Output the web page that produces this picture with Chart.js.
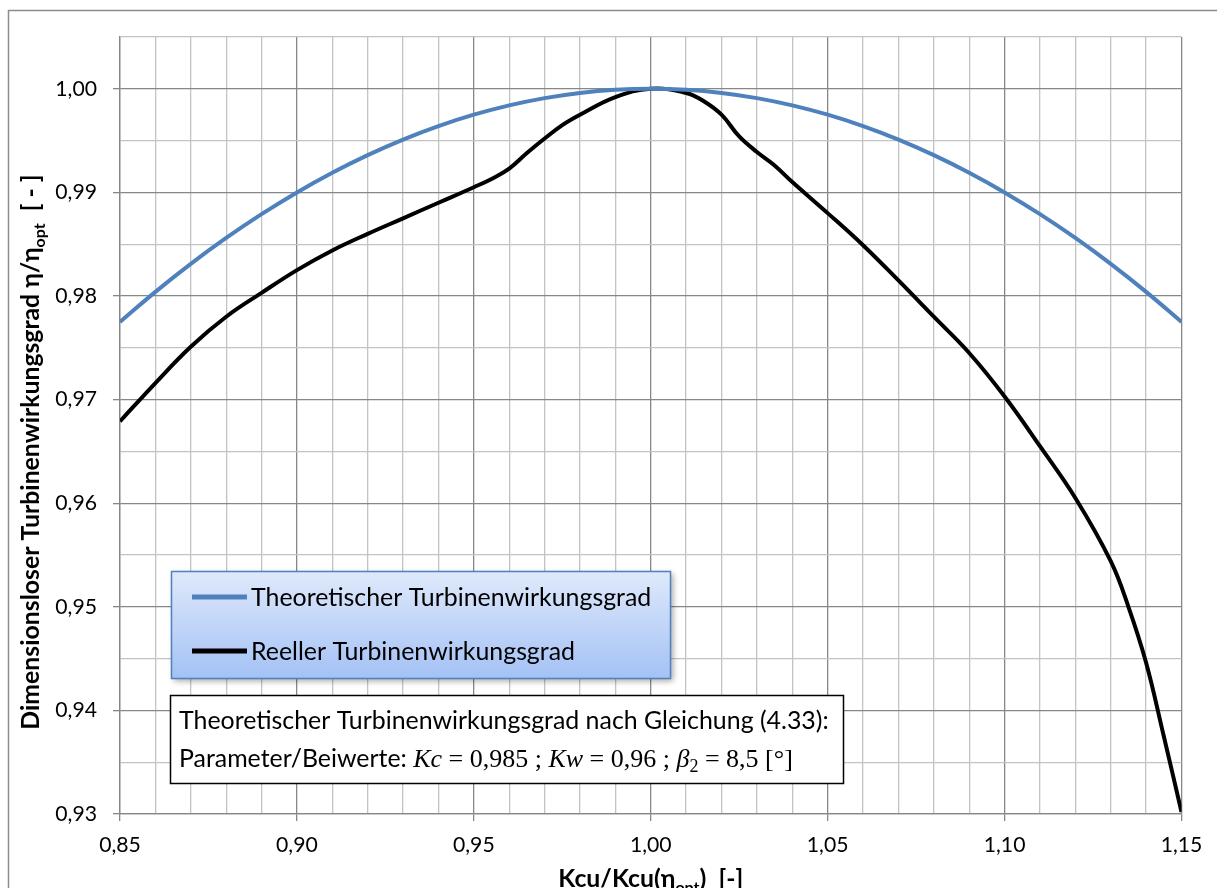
<!DOCTYPE html>
<html><head><meta charset="utf-8">
<script src="https://cdn.jsdelivr.net/npm/chart.js@4.4.1/dist/chart.umd.min.js"></script>
<style>html,body{margin:0;padding:0;background:#fff;}#wrap{position:relative;width:1217px;height:888px;overflow:hidden}</style>
</head><body><div id="wrap"><canvas id="c" width="1217" height="888"></canvas></div>
<script>
const seriesNames = ['Theoretischer Turbinenwirkungsgrad', 'Reeller Turbinenwirkungsgrad'];
const seriesColors = ['#4f81bd', '#000000'];

const theoX = [0.85,0.86,0.87,0.88,0.89,0.90,0.91,0.92,0.93,0.94,0.95,0.96,0.97,0.98,0.99,1.00,
               1.01,1.02,1.03,1.04,1.05,1.06,1.07,1.08,1.09,1.10,1.11,1.12,1.13,1.14,1.15];
const theoY = [0.9775,0.9804,0.9831,0.9856,0.9879,0.9900,0.9919,0.9936,0.9951,0.9964,0.9975,0.9984,0.9991,0.9996,0.9999,1.0000,
               0.9999,0.9996,0.9991,0.9984,0.9975,0.9964,0.9951,0.9936,0.9919,0.9900,0.9879,0.9856,0.9831,0.9804,0.9775];

const realX = [0.85,0.86,0.87,0.88,0.89,0.90,0.91,0.92,0.93,0.94,0.95,0.955,0.96,0.965,0.97,0.975,0.98,0.99,1.00,
               1.01,1.015,1.02,1.025,1.03,1.035,1.04,1.05,1.06,1.07,1.08,1.09,1.10,1.11,1.12,1.13,1.135,1.14,1.145,1.15];
const realY = [0.9679,0.9716,0.9751,0.9780,0.9803,0.9825,0.9844,0.9860,0.9875,0.9890,0.9905,0.9913,0.9923,0.9938,0.9952,0.9965,0.9975,0.9992,1.0000,
               0.9996,0.9988,0.9975,0.9954,0.9939,0.9926,0.9910,0.9880,0.9849,0.9815,0.9780,0.9745,0.9703,0.9655,0.9605,0.9544,0.9500,0.9446,0.9375,0.9302];

const xMajor = [0.85,0.90,0.95,1.00,1.05,1.10,1.15];
const xTickLabels = ['0,85','0,90','0,95','1,00','1,05','1,10','1,15'];
const yMajor = [0.93,0.94,0.95,0.96,0.97,0.98,0.99,1.00];
const yTickLabels = ['0,93','0,94','0,95','0,96','0,97','0,98','0,99','1,00'];

const xTitle = ['Kcu/Kcu(η', 'opt', ')  [-]'];
const yTitle = ['Dimensionsloser Turbinenwirkungsgrad η/η', 'opt', '  [ - ]'];
const noteLine1 = 'Theoretischer Turbinenwirkungsgrad nach Gleichung (4.33):';
const noteLine2 = [['Parameter/Beiwerte: ','n'],['Kc','i'],[' = 0,985 ; ','m'],['Kw','i'],[' = 0,96 ; ','m'],['β','i'],['2','s'],[' = 8,5 [°]','m']];

const FONT = 'Lato';
const MAJ = '#878787', MIN = '#c3c3c3';

function findIdx(arr, v){ for(let i=0;i<arr.length;i++){ if(Math.abs(arr[i]-v)<1e-6) return i; } return -1; }

function drawParts(ctx, parts, x, y, center){
  let w = 0;
  parts.forEach(p=>{ ctx.font = p.font; w += ctx.measureText(p.t).width; });
  let cx = center ? x - w/2 : x;
  parts.forEach(p=>{ ctx.font = p.font; ctx.fillText(p.t, cx, y + (p.dy||0)); cx += ctx.measureText(p.t).width; });
}

const decor = {
  id:'decor',
  beforeDraw(chart){
    const ctx = chart.ctx;
    ctx.save();
    ctx.fillStyle = '#fff'; ctx.fillRect(0,0,chart.width,chart.height);
    ctx.strokeStyle = '#8c8c8c'; ctx.lineWidth = 1.5;
    ctx.beginPath(); ctx.moveTo(8.5, chart.height); ctx.lineTo(8.5, 10.5); ctx.lineTo(chart.width, 10.5); ctx.stroke();
    ctx.restore();
  },
  afterDraw(chart){
    const ctx = chart.ctx;
    const ca = chart.chartArea;
    ctx.save();
    ctx.fillStyle = '#000'; ctx.textBaseline = 'alphabetic';
    const bf = 'bold 24.8px ' + FONT, sf = 'bold 16px ' + FONT;
    // x title
    drawParts(ctx, [{t:xTitle[0],font:bf},{t:xTitle[1],font:sf,dy:6},{t:xTitle[2],font:bf}], (ca.left+ca.right)/2, 887, true);
    // y title
    ctx.save(); ctx.translate(39, 452); ctx.rotate(-Math.PI/2);
    drawParts(ctx, [{t:yTitle[0],font:bf},{t:yTitle[1],font:sf,dy:6},{t:yTitle[2],font:bf}], 0, 0, true);
    ctx.restore();

    // legend
    const lx = 171, ly = 571, lw = 499, lh = 107;
    ctx.save();
    ctx.shadowColor = 'rgba(0,0,0,0.35)'; ctx.shadowBlur = 6; ctx.shadowOffsetX = 3; ctx.shadowOffsetY = 3;
    const g = ctx.createLinearGradient(0, ly, 0, ly+lh);
    g.addColorStop(0, '#dfe9fb'); g.addColorStop(1, '#a4c2f5');
    ctx.fillStyle = g; ctx.fillRect(lx, ly, lw, lh);
    ctx.restore();
    ctx.strokeStyle = '#4f81bd'; ctx.lineWidth = 1.5; ctx.strokeRect(lx+0.5, ly+0.5, lw, lh);
    const rows = [597, 651];
    chart.data.datasets.forEach((ds, i)=>{
      ctx.strokeStyle = ds.borderColor; ctx.lineWidth = 5;
      ctx.beginPath(); ctx.moveTo(192, rows[i]); ctx.lineTo(247, rows[i]); ctx.stroke();
      ctx.fillStyle = '#000'; ctx.font = '24.9px ' + FONT; ctx.textBaseline = 'middle';
      ctx.fillText(ds.label, 251, rows[i]+1);
    });

    // note box
    ctx.fillStyle = '#fff'; ctx.fillRect(170.5, 695.5, 673, 88);
    ctx.strokeStyle = '#000'; ctx.lineWidth = 1.5; ctx.strokeRect(170.5, 695.5, 673, 88);
    ctx.fillStyle = '#000'; ctx.textBaseline = 'alphabetic';
    ctx.font = '24.9px ' + FONT; ctx.fillText(noteLine1, 179, 729);
    const fm = {n:'24.9px '+FONT, i:'italic 26px "Liberation Serif"', m:'26px "Liberation Serif"', s:'18px "Liberation Serif"'};
    drawParts(ctx, noteLine2.map(p=>({t:p[0], font:fm[p[1]], dy: p[1]==='s'?5:0})), 179, 767, false);
    ctx.restore();
  }
};

new Chart(document.getElementById('c'), {
  type: 'line',
  data: {
    datasets: [
      { label: seriesNames[0], data: theoX.map((x,i)=>({x, y: theoY[i]})), borderColor: seriesColors[0], borderWidth: 4,
        pointRadius: 0, tension: 0.4, fill: false },
      { label: seriesNames[1], data: realX.map((x,i)=>({x, y: realY[i]})), borderColor: seriesColors[1], borderWidth: 4,
        pointRadius: 0, tension: 0.4, fill: false }
    ]
  },
  options: {
    responsive: false, animation: false, devicePixelRatio: 1,
    layout: { padding: { top: 37, right: 35.5, left: 0, bottom: 0 } },
    plugins: { legend: { display: false }, tooltip: { enabled: false } },
    scales: {
      x: {
        type: 'linear', min: 0.85, max: 1.15,
        afterFit(s){ s.height = 74; },
        border: { color: MAJ, width: 1.3 },
        grid: {
          color: c => findIdx(xMajor, c.tick.value) >= 0 ? MAJ : MIN,
          lineWidth: 1.3, tickLength: 7,
          tickColor: c => findIdx(xMajor, c.tick.value) >= 0 ? MAJ : 'rgba(0,0,0,0)'
        },
        ticks: {
          stepSize: 0.01, autoSkip: false, maxRotation: 0, padding: 11,
          color: '#000', font: { family: FONT, size: 21.2 },
          callback: v => { const i = findIdx(xMajor, v); return i >= 0 ? xTickLabels[i] : ''; }
        }
      },
      y: {
        type: 'linear', min: 0.93, max: 1.005,
        afterFit(s){ s.width = 120; },
        border: { color: MAJ, width: 1.3 },
        grid: {
          color: c => findIdx(yMajor, c.tick.value) >= 0 ? MAJ : MIN,
          lineWidth: 1.3, tickLength: 7,
          tickColor: c => findIdx(yMajor, c.tick.value) >= 0 ? MAJ : 'rgba(0,0,0,0)'
        },
        ticks: {
          stepSize: 0.005, autoSkip: false, padding: 16,
          color: '#000', font: { family: FONT, size: 21.2 },
          callback: v => { const i = findIdx(yMajor, v); return i >= 0 ? yTickLabels[i] : ''; }
        }
      }
    }
  },
  plugins: [decor]
});
</script></body></html>
